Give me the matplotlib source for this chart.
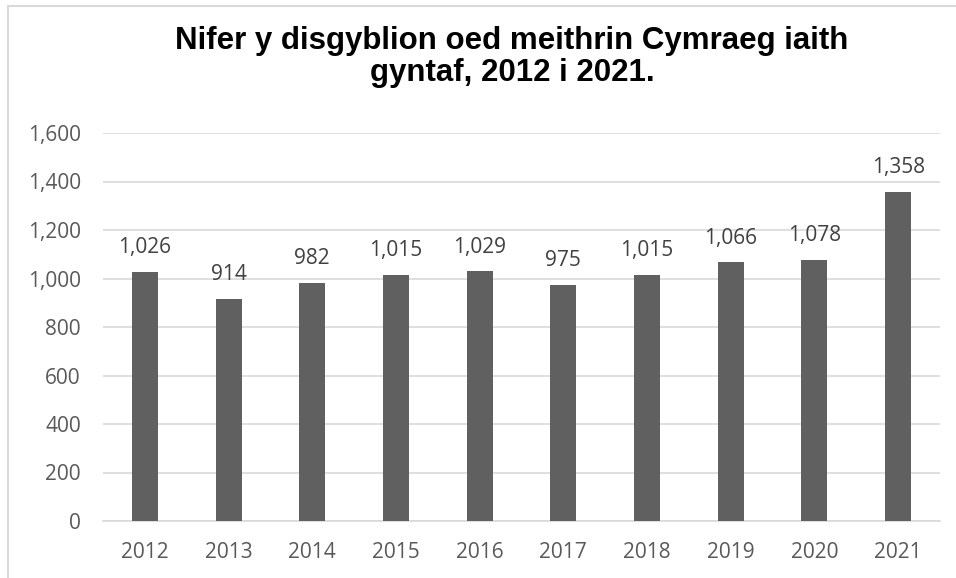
import matplotlib
matplotlib.use("Agg")
import matplotlib.pyplot as plt
from matplotlib.patches import Rectangle

years = ["2012", "2013", "2014", "2015", "2016", "2017", "2018", "2019", "2020", "2021"]
values = [1026, 914, 982, 1015, 1029, 975, 1015, 1066, 1078, 1358]
yticks = [0, 200, 400, 600, 800, 1000, 1200, 1400, 1600]

fig = plt.figure(figsize=(9.56, 5.78), dpi=100)
fig.patch.set_facecolor("white")
fig.patches.append(Rectangle((8/956, -0.1), 1.2, 1 - 6/578 + 0.1, transform=fig.transFigure,
                             fill=False, edgecolor="#d9d9d9", linewidth=1.5))

ax = fig.add_axes([103/956, 1 - 521/578, 837/956, (521 - 133)/578])
x = list(range(len(years)))
ax.bar(x, values, width=0.31, color="#606060", zorder=3)
ax.set_xlim(-0.5, len(years) - 0.5)
ax.set_ylim(0, 1600)
ax.set_yticks(yticks)
ax.set_yticklabels([f"{v:,}" for v in yticks])
ax.set_xticks(x)
ax.set_xticklabels(years)
ax.grid(axis="y", color="#d9d9d9", linewidth=1.2, zorder=0)
for s in ["top", "right", "left"]:
    ax.spines[s].set_visible(False)
ax.spines["bottom"].set_color("#d9d9d9")
ax.spines["bottom"].set_linewidth(1.2)
ax.tick_params(length=0, labelsize=15, labelcolor="#595959")
for lab in ax.get_xticklabels() + ax.get_yticklabels():
    lab.set_fontfamily("Open Sans")
ax.tick_params(axis="x", pad=15)
ax.tick_params(axis="y", pad=16)

for xi, v in zip(x, values):
    ax.annotate(f"{v:,}", (xi, v), xytext=(0, 10), textcoords="offset points",
                ha="center", va="bottom", fontsize=15, color="#404040", family="Open Sans")

fig.text(512/956, 1 - 57/578, "Nifer y disgyblion oed meithrin Cymraeg iaith\ngyntaf, 2012 i 2021.",
         ha="center", va="center", fontsize=22.5, fontweight="bold", family="Liberation Sans",
         color="black", linespacing=1.1)

fig.savefig("out.png", dpi=100)
